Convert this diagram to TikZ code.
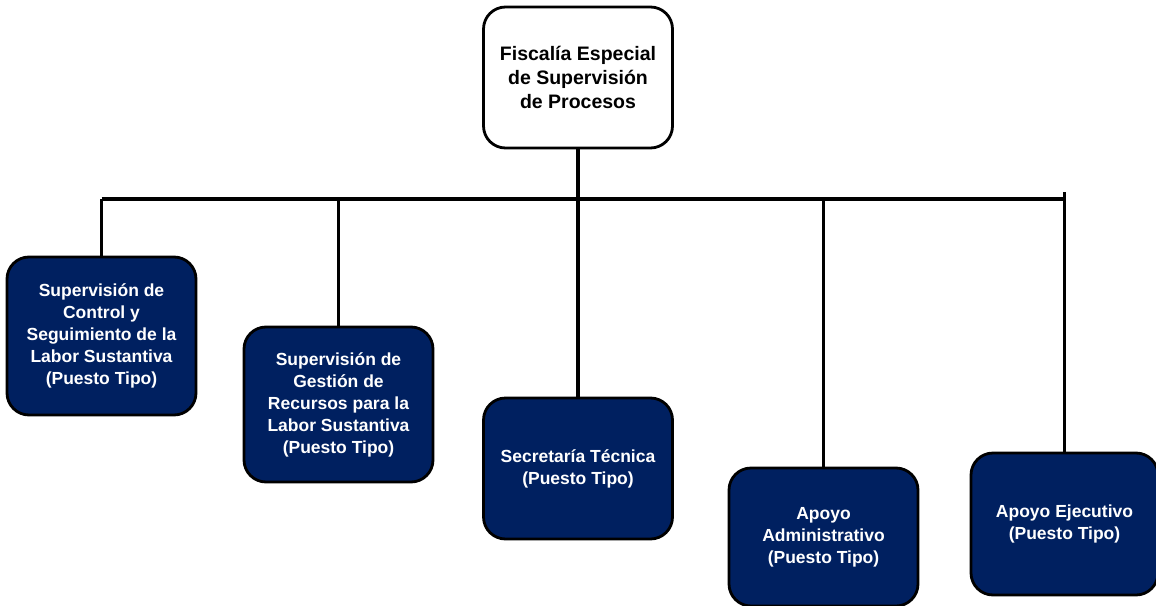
\documentclass[tikz,border=0pt]{standalone}
\usepackage{fontspec}
\setmainfont{Liberation Sans}
\definecolor{navy}{HTML}{002060}
\begin{document}
\begin{tikzpicture}[x=1pt,y=-1pt,
  box/.style={draw=black,line width=2.8pt,rounded corners=22pt,align=center,
    inner sep=0pt,font=\bfseries\fontsize{17.5}{22}\selectfont},
  unit/.style={box,fill=navy,text=white},
  head/.style={box,fill=white,text=black,font=\bfseries\fontsize{19.5}{24}\selectfont},
  link/.style={line width=3.8pt}]
\useasboundingbox (0,0) rectangle (1156,605);
\node[head,minimum width=189pt,minimum height=141pt] (top) at (578,77.5)
  {Fiscalía Especial\\de Supervisión\\de Procesos};
\node[unit,minimum width=189pt,minimum height=158pt] (b1) at (101.5,336)
  {Supervisión de\\Control y\\Seguimiento de la\\Labor Sustantiva\\(Puesto Tipo)};
\node[unit,minimum width=189pt,minimum height=155pt] (b2) at (338.5,404.5)
  {Supervisión de\\Gestión de\\Recursos para la\\Labor Sustantiva\\(Puesto Tipo)};
\node[unit,minimum width=189pt,minimum height=141pt] (b3) at (578,468.5)
  {Secretaría Técnica\\(Puesto Tipo)};
\node[unit,minimum width=189pt,minimum height=138pt] (b4) at (823.5,537)
  {Apoyo\\Administrativo\\(Puesto Tipo)};
\node[unit,minimum width=187pt,minimum height=142pt] (b5) at (1064.5,524)
  {Apoyo Ejecutivo\\(Puesto Tipo)};
\coordinate (bus) at (0,199);
\coordinate (b5top) at (1064.5,192);
\draw[link] (top.south) -- (b3.north);
\draw[link] (b1.north |- bus) -- (b5.north |- bus);
\draw[link] (b1.north |- bus) -- (b1.north);
\draw[link] (b2.north |- bus) -- (b2.north);
\draw[link] (b4.north |- bus) -- (b4.north);
\draw[link] (b5top) -- (b5.north);
\end{tikzpicture}
\end{document}
